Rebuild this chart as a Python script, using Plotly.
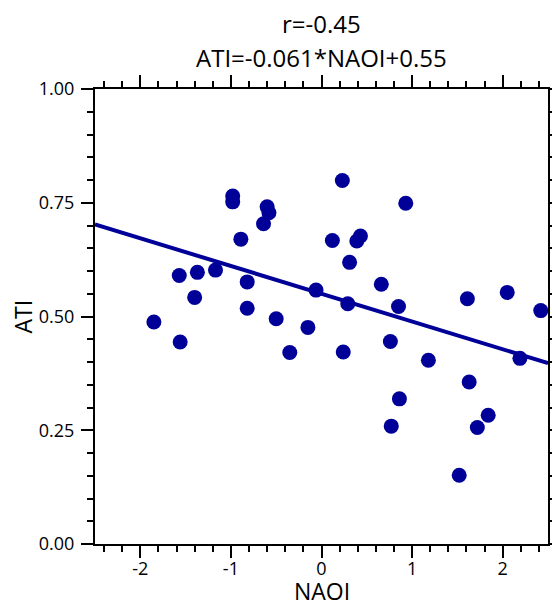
import plotly.graph_objects as go

naoi = [-1.85, -1.56, -1.57, -1.37, -1.40, -1.17, -0.98, -0.98, -0.89, -0.82,
        -0.82, -0.60, -0.58, -0.64, -0.50, -0.35, -0.15, -0.06, 0.23, 0.93,
        0.12, 0.39, 0.43, 0.31, 0.66, 0.29, 0.85, 1.61, 2.05, 2.42,
        0.24, 0.76, 1.18, 2.19, 1.63, 0.86, 0.77, 1.84, 1.72, 1.52]
ati = [0.488, 0.444, 0.590, 0.597, 0.542, 0.602, 0.765, 0.752, 0.670, 0.576,
       0.518, 0.741, 0.728, 0.704, 0.495, 0.421, 0.476, 0.558, 0.799, 0.749,
       0.667, 0.666, 0.677, 0.619, 0.571, 0.528, 0.522, 0.539, 0.553, 0.513,
       0.422, 0.445, 0.404, 0.408, 0.356, 0.319, 0.259, 0.283, 0.256, 0.151]

slope = -0.061
intercept = 0.55
r_value = -0.45
x_range = [-2.5, 2.5]
y_range = [0.0, 1.0]
y_ticks = [0.0, 0.25, 0.5, 0.75, 1.0]
y_ticktext = ["0.00", "0.25", "0.50", "0.75", "1.00"]
x_ticks = [-2, -1, 0, 1, 2]
x_ticktext = ["-2", "-1", "0", "1", "2"]

color = "#000099"
font = "Open Sans"

fig = go.Figure()
fig.add_trace(go.Scatter(
    x=x_range, y=[slope * v + intercept for v in x_range],
    mode="lines", line=dict(color=color, width=4), hoverinfo="skip"))
fig.add_trace(go.Scatter(
    x=naoi, y=ati, mode="markers",
    marker=dict(color=color, size=15, line=dict(width=0))))

axis_common = dict(
    showgrid=False, zeroline=False, showline=True, linecolor="black",
    linewidth=2, mirror="allticks", ticks="outside", ticklen=12,
    tickwidth=2, tickcolor="black",
    tickfont=dict(family=font, size=18, color="black"),
)

fig.update_xaxes(
    range=x_range, tickvals=x_ticks, ticktext=x_ticktext,
    minor=dict(dtick=0.2, tick0=0, ticks="outside", ticklen=6, tickwidth=2, tickcolor="black"),
    ticklabelstandoff=-5,
    **axis_common)
fig.update_yaxes(
    range=y_range, tickvals=y_ticks, ticktext=y_ticktext,
    minor=dict(dtick=0.05, tick0=0, ticks="outside", ticklen=6, tickwidth=2, tickcolor="black"),
    ticklabelstandoff=3,
    **axis_common)

# axis titles
fig.add_annotation(text="NAOI", x=0.5, y=0, xref="paper", yref="paper",
                   xanchor="center", yanchor="middle", yshift=-47, showarrow=False,
                   borderpad=0, font=dict(family=font, size=23, color="black"))
fig.add_annotation(text="ATI", x=0, y=0.5, xref="paper", yref="paper",
                   xanchor="center", yanchor="middle", xshift=-73, textangle=-90,
                   showarrow=False, borderpad=0,
                   font=dict(family=font, size=23, color="black"))

# titles
fig.add_annotation(text=f"r={r_value}", x=0.5, y=1, xref="paper", yref="paper",
                   xanchor="center", yanchor="middle", yshift=66, showarrow=False,
                   font=dict(family=font, size=24, color="black"))
fig.add_annotation(text=f"ATI={slope}*NAOI+{intercept}", x=0.5, y=1, xref="paper", yref="paper",
                   xanchor="center", yanchor="middle", yshift=32, showarrow=False,
                   font=dict(family=font, size=24, color="black"))

fig.update_layout(
    width=552, height=606,
    margin=dict(l=95, r=4, t=89, b=62, autoexpand=False),
    paper_bgcolor="white", plot_bgcolor="white",
    showlegend=False,
)

fig.write_html("out.html")
